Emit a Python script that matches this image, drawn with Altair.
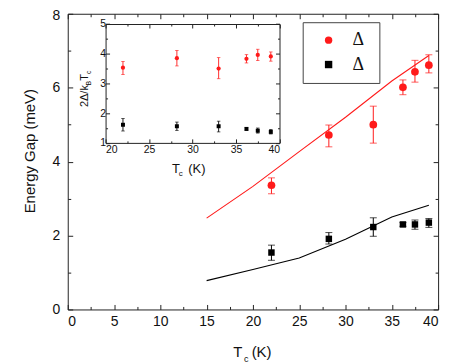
import altair as alt
import pandas as pd

# ---------------- data ----------------
tc = [22.0, 28.2, 33.0, 36.2, 37.5, 39.0]
gap_sigma = [3.36, 4.72, 5.00, 6.01, 6.43, 6.61]
gap_sigma_lo = [3.13, 4.40, 4.50, 5.81, 6.15, 6.40]
gap_sigma_hi = [3.56, 4.99, 5.50, 6.21, 6.74, 6.89]
gap_pi = [1.54, 1.91, 2.23, 2.30, 2.30, 2.35]
gap_pi_lo = [1.33, 1.77, 1.98, 2.25, 2.17, 2.22]
gap_pi_hi = [1.74, 2.08, 2.48, 2.35, 2.42, 2.46]

theory_tc = [15, 20, 25, 30, 35, 39]
theory_sigma = [2.47, 3.33, 4.27, 5.20, 6.18, 6.87]
theory_pi = [0.78, 1.08, 1.39, 1.90, 2.50, 2.82]

ratio_sigma = [3.53, 3.85, 3.50, 3.83, 3.96, 3.91]
ratio_sigma_lo = [3.30, 3.59, 3.16, 3.69, 3.77, 3.75]
ratio_sigma_hi = [3.74, 4.11, 3.87, 3.97, 4.15, 4.06]
ratio_pi = [1.61, 1.56, 1.56, 1.47, 1.41, 1.37]
ratio_pi_lo = [1.40, 1.42, 1.37, 1.43, 1.33, 1.30]
ratio_pi_hi = [1.82, 1.70, 1.73, 1.51, 1.50, 1.45]

series_names = ["sigma", "pi"]
main_x_ticks = [0, 5, 10, 15, 20, 25, 30, 35, 40]
main_x_minor = [2.5, 7.5, 12.5, 17.5, 22.5, 27.5, 32.5, 37.5]
main_y_ticks = [0, 2, 4, 6, 8]
main_y_minor = [1, 3, 5, 7]
inset_x_ticks = [20, 25, 30, 35, 40]
inset_x_minor = [22.5, 27.5, 32.5, 37.5]
inset_y_ticks = [1, 2, 3, 4, 5]
inset_y_minor = [1.5, 2.5, 3.5, 4.5]

RED = "#ff1a1a"
BLACK = "#000000"
FRAME = "#222222"
FONT = "Liberation Sans"

W, H = 372, 297
# inset placement (pixels inside the main plot area)
IX0, IX1 = 38, 212.7
IY0, IY1 = 129.7, 10.3

main_df = pd.DataFrame({
    "tc": tc + tc,
    "val": gap_sigma + gap_pi,
    "lo": gap_sigma_lo + gap_pi_lo,
    "hi": gap_sigma_hi + gap_pi_hi,
    "series": ["sigma"] * len(tc) + ["pi"] * len(tc),
})
theory_df = pd.DataFrame({
    "tc": theory_tc + theory_tc,
    "val": theory_sigma + theory_pi,
    "series": ["sigma"] * len(theory_tc) + ["pi"] * len(theory_tc),
})
ratio_df = pd.DataFrame({
    "tc": tc + tc,
    "val": ratio_sigma + ratio_pi,
    "lo": ratio_sigma_lo + ratio_pi_lo,
    "hi": ratio_sigma_hi + ratio_pi_hi,
    "series": ["sigma"] * len(tc) + ["pi"] * len(tc),
})
one = pd.DataFrame({"a": [0]})

main_xs = alt.Scale(domain=[0, 40], nice=False, zero=False)
main_ys = alt.Scale(domain=[0, 8], nice=False, zero=False)
ins_xs = alt.Scale(domain=[20, 40], range=[IX0, IX1], nice=False, zero=False)
ins_ys = alt.Scale(domain=[1, 5], range=[IY0, IY1], nice=False, zero=False)


def axis(orient, values, size, labels=False, offset=0, fs=14, pad=0, domain=True, **extra):
    kw = dict(orient=orient, values=values, tickSize=alt.ExprRef(expr=str(-size)),
              labels=labels, domain=domain, domainColor=FRAME, domainWidth=1,
              tickColor=FRAME, tickWidth=1, grid=False, title=None, offset=offset,
              zindex=1)
    if labels:
        kw.update(labelFontSize=fs, labelFont=FONT, labelColor="#111",
                  labelPadding=pad, format="d")
    kw.update(extra)
    return alt.Axis(**kw)


main_xa = axis("bottom", main_x_ticks, 5, True, fs=14, pad=10)
main_ya = axis("left", main_y_ticks, 5, True, fs=14, pad=13,
               labelOffset={"condition": {"test": "datum.value === 8", "value": 1.5}, "value": 0})
ins_xa = axis("bottom", inset_x_ticks, 4, True, offset=IY0 - H, fs=10.5, pad=6)
ins_ya = axis("left", inset_y_ticks, 4, True, offset=-IX0, fs=10.5, pad=4)


def MX(f="tc"):
    return alt.X(f"{f}:Q", scale=main_xs, axis=main_xa)


def MY(f="val"):
    return alt.Y(f"{f}:Q", scale=main_ys, axis=main_ya)


def IXe(f="tc"):
    return alt.X(f"{f}:Q", scale=ins_xs, axis=ins_xa)


def IYe(f="val"):
    return alt.Y(f"{f}:Q", scale=ins_ys, axis=ins_ya)


def txt(s, x, y, size, angle=0, font=FONT, color="#111"):
    return alt.Chart(one).mark_text(text=s, fontSize=size, font=font, angle=angle,
                                   align="left", baseline="alphabetic",
                                   color=color).encode(x=alt.value(x), y=alt.value(y))


legend = alt.Legend(orient="none", legendX=236, legendY=8.5,
                    title="\u2002", titleOrient="right", titleFontSize=8, titlePadding=6,
                    padding=9, symbolOffset=8, labelOffset=15, rowPadding=6.5,
                    strokeColor="#444", fillColor="white", labelFont="Liberation Serif",
                    labelFontSize=18, labelColor="#111",
                    labelExpr="'\u0394'",
                    symbolSize=55, symbolStrokeWidth=0)
color_enc = alt.Color("series:N", scale=alt.Scale(domain=series_names, range=[RED, BLACK]),
                      legend=legend)
shape_enc = alt.Shape("series:N", scale=alt.Scale(domain=series_names, range=["circle", "square"]),
                      legend=legend)


def main_series(name, col, size):
    d = main_df[main_df.series == name]
    th = theory_df[theory_df.series == name]
    line = alt.Chart(th).mark_line(color=col, strokeWidth=1.1).encode(x=MX(), y=MY())
    rule = alt.Chart(d).mark_rule(color=col, strokeWidth=1).encode(x=MX(), y=MY("lo"), y2="hi:Q")
    t1 = alt.Chart(d).mark_tick(color=col, orient="horizontal", size=7, thickness=1).encode(x=MX(), y=MY("lo"))
    t2 = alt.Chart(d).mark_tick(color=col, orient="horizontal", size=7, thickness=1).encode(x=MX(), y=MY("hi"))
    pts = alt.Chart(d).mark_point(filled=True, opacity=1, size=size).encode(
        x=MX(), y=MY(), color=color_enc, shape=shape_enc)
    return [line, rule, t1, t2, pts]


def inset_series(name, col, size):
    d = ratio_df[ratio_df.series == name]
    rule = alt.Chart(d).mark_rule(color=col, strokeWidth=0.9).encode(x=IXe(), y=IYe("lo"), y2="hi:Q")
    t1 = alt.Chart(d).mark_tick(color=col, orient="horizontal", size=3.5, thickness=0.9).encode(x=IXe(), y=IYe("lo"))
    t2 = alt.Chart(d).mark_tick(color=col, orient="horizontal", size=3.5, thickness=0.9).encode(x=IXe(), y=IYe("hi"))
    pts = alt.Chart(d).mark_point(filled=True, opacity=1, size=size, color=col,
                                  shape="circle" if name == "sigma" else "square").encode(x=IXe(), y=IYe())
    return [rule, t1, t2, pts]


texts = [
    # main y title
    alt.Chart(one).mark_text(text="Energy Gap (meV)", fontSize=15, font=FONT, angle=270,
                             align="center", baseline="alphabetic", color="#111").encode(
        x=alt.value(-33), y=alt.value(138)),
    # main x title
    txt("T", 166.3, 344.3, 15), txt("c", 177, 350, 9), txt("(K)", 184.7, 344.3, 15),
    # inset x title
    txt("T", 104.7, 160.3, 13), txt("c", 111.5, 162.5, 8), txt("(K)", 121, 160.3, 13),
    # inset y title (rotated)
    txt("2\u0394/k", 20.3, 93.7, 11, angle=270), txt("B", 23, 72, 7, angle=270),
    txt("T", 20.3, 67.3, 11, angle=270), txt("c", 23, 60.6, 7, angle=270),
    # legend subscripts
    txt("\u03c3", 299.5, 41, 9, font="Liberation Serif"),
    txt("\u03c0", 299.5, 65.5, 9, font="Liberation Serif"),
]

main_group = alt.layer(*(main_series("sigma", RED, 60) + main_series("pi", BLACK, 42) + texts))
inset_group = alt.layer(*(inset_series("sigma", RED, 18) + inset_series("pi", BLACK, 16)))


def frame(xs, ys, xa, ya):
    return alt.Chart(one).mark_point(opacity=0).encode(
        x=alt.X("xv:Q", scale=xs, axis=xa), y=alt.Y("yv:Q", scale=ys, axis=ya)
    ).transform_calculate(xv=str(xs.domain[0]), yv=str(ys.domain[0]))


main_minor = frame(main_xs, main_ys, axis("bottom", main_x_minor, 3, domain=False),
                   axis("left", main_y_minor, 3, domain=False))
main_tr = frame(main_xs, main_ys, axis("top", main_x_ticks, 5), axis("right", main_y_ticks, 5))
main_tr_minor = frame(main_xs, main_ys, axis("top", main_x_minor, 3, domain=False),
                      axis("right", main_y_minor, 3, domain=False))
ins_minor = frame(ins_xs, ins_ys, axis("bottom", inset_x_minor, 2, offset=IY0 - H, domain=False),
                  axis("left", inset_y_minor, 2, offset=-IX0, domain=False))
ins_tr = frame(ins_xs, ins_ys, axis("top", inset_x_ticks, 4, offset=-IY1),
               axis("right", inset_y_ticks, 4, offset=IX1 - W))
ins_tr_minor = frame(ins_xs, ins_ys, axis("top", inset_x_minor, 2, offset=-IY1, domain=False),
                     axis("right", inset_y_minor, 2, offset=IX1 - W, domain=False))

chart = alt.layer(main_group, main_minor, main_tr, main_tr_minor,
                  inset_group, ins_minor, ins_tr, ins_tr_minor).resolve_scale(
    x="independent", y="independent").properties(
    width=W, height=H,
    autosize=alt.AutoSizeParams(type="none"),
    padding={"left": 60, "top": 5, "right": 25, "bottom": 54},
).configure_view(stroke=None)

chart.save("out.html", embed_options={"renderer": "svg", "actions": False})
